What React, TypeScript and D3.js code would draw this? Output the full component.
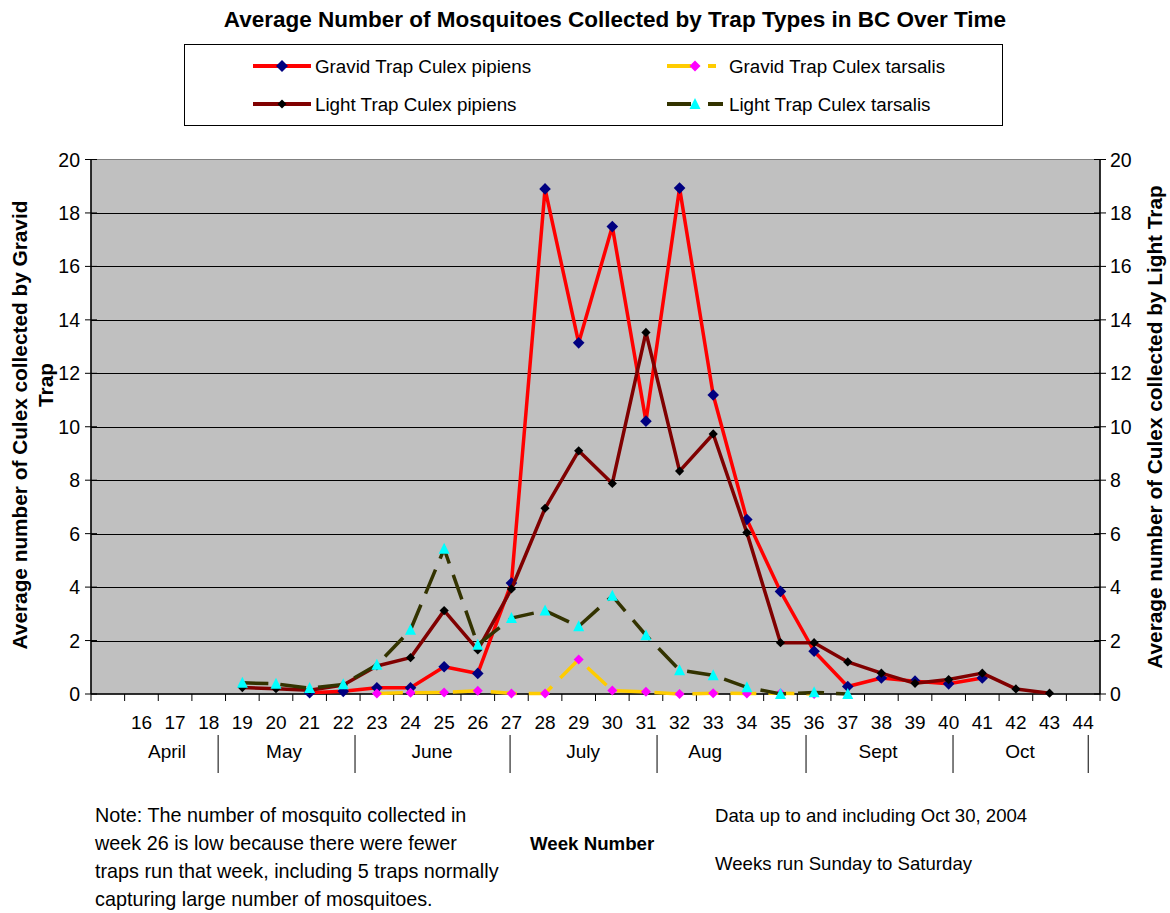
import React from 'react';
import * as d3 from 'd3';

const weeks = [15, 16, 17, 18, 19, 20, 21, 22, 23, 24, 25, 26, 27, 28, 29, 30, 31, 32, 33, 34, 35, 36, 37, 38, 39, 40, 41, 42, 43, 44];
const weekTickLabels = ['', '16', '17', '18', '19', '20', '21', '22', '23', '24', '25', '26', '27', '28', '29', '30', '31', '32', '33', '34', '35', '36', '37', '38', '39', '40', '41', '42', '43', '44'];

const gravidPipiens: (number | null)[] = [null, null, null, null, null, null,
  0.05, 0.1, 0.23, 0.23, 1.02, 0.77, 4.15, 18.9, 13.14, 17.49, 10.21, 18.93, 11.19, 6.53, 3.84, 1.6, 0.28, 0.6, 0.48, 0.38, 0.6,
  null, null, null];
const gravidTarsalis: (number | null)[] = [null, null, null, null, null, null, null, null,
  0.02, 0.05, 0.06, 0.12, 0.02, 0.02, 1.29, 0.13, 0.08, 0, 0.03, 0.02, 0.03, 0,
  null, null, null, null, null, null, null, null];
const lightPipiens: (number | null)[] = [null, null, null, null,
  0.24, 0.2, 0.14, 0.34, 1.05, 1.36, 3.12, 1.65, 3.93, 6.95, 9.1, 7.88, 13.53, 8.34, 9.73, 6.04, 1.92, 1.92, 1.2, 0.78, 0.4, 0.54, 0.78, 0.19, 0.03,
  null];
const lightTarsalis: (number | null)[] = [null, null, null, null,
  0.42, 0.38, 0.22, 0.36, 1.09, 2.4, 5.43, 1.84, 2.84, 3.12, 2.53, 3.67, 2.2, 0.89, 0.7, 0.25, 0, 0.06, 0,
  null, null, null, null, null, null, null];

const yTicks = [0, 2, 4, 6, 8, 10, 12, 14, 16, 18, 20];

const monthLabels = ['April', 'May', 'June', 'July', 'Aug', 'Sept', 'Oct'];
const monthCenters = [16.76, 20.24, 24.64, 29.13, 32.76, 37.9, 42.12];
const monthSeparators = [18.28, 22.35, 26.96, 31.33, 35.76, 40.13, 44.15];

const title = 'Average Number of Mosquitoes Collected by Trap Types in BC Over Time';
const seriesNames = ['Gravid Trap Culex pipiens', 'Gravid Trap Culex tarsalis', 'Light Trap Culex pipiens', 'Light Trap Culex tarsalis'];
const leftTitle1 = 'Average number of Culex collected by Gravid';
const leftTitle2 = 'Trap';
const rightTitle = 'Average number of Culex collected by Light Trap';
const noteLines = [
  'Note: The number of mosquito collected in',
  'week 26 is low because there were fewer',
  'traps run that week, including 5 traps normally',
  'capturing large number of mosquitoes.',
];
const xTitle = 'Week Number';
const infoLines = ['Data up to and including Oct 30, 2004', 'Weeks run Sunday to Saturday'];

const W = 1170;
const H = 913;
const L = 91;
const R = 1100;
const T = 159.5;
const B = 694;
const FONT = '"Liberation Sans", Arial, Helvetica, sans-serif';

const diamond = (x: number, y: number, h: number) => `M${x},${y - h}L${x + h},${y}L${x},${y + h}L${x - h},${y}Z`;
const triangle = (x: number, y: number, w: number, h: number) => `M${x},${y - h * 0.55}L${x + w},${y + h * 0.45}L${x - w},${y + h * 0.45}Z`;

export default function App() {
  const x = d3.scaleBand<number>().domain(weeks).range([L, R]).padding(0);
  const bw = x.bandwidth();
  const cx = (w: number) => (x(w) as number) + bw / 2;
  const wx = d3.scaleLinear().domain([weeks[0], weeks[weeks.length - 1]]).range([cx(weeks[0]), cx(weeks[weeks.length - 1])]);
  const yL = d3.scaleLinear().domain([0, 20]).range([B, T]);
  const yR = d3.scaleLinear().domain([0, 20]).range([B, T]);

  type P = { w: number; v: number | null };
  const mk = (arr: (number | null)[]): P[] => weeks.map((w, i) => ({ w, v: arr[i] }));
  const lineGen = (ys: d3.ScaleLinear<number, number>) =>
    d3.line<P>().defined(d => d.v != null).x(d => cx(d.w)).y(d => ys(d.v as number));

  const gp = mk(gravidPipiens);
  const gt = mk(gravidTarsalis);
  const lp = mk(lightPipiens);
  const lt = mk(lightTarsalis);

  const boundaries = d3.range(weeks.length + 1).map(i => L + i * bw);

  return (
    <svg width={W} height={H} style={{ position: 'absolute', left: 0, top: 0, background: '#fff' }} fontFamily={FONT}>
      <rect x={0} y={0} width={W} height={H} fill="#fff" />
      <text x={615} y={27} textAnchor="middle" fontWeight="bold" fontSize={22.5}>{title}</text>

      {/* legend */}
      <rect x={184.5} y={44.5} width={818} height={81} fill="#fff" stroke="#000" strokeWidth={1} />
      <line x1={253} x2={311} y1={66} y2={66} stroke="#ff0000" strokeWidth={4} />
      <path d={diamond(282, 66, 6)} fill="#000080" />
      <text x={315} y={72.5} fontSize={18.8}>{seriesNames[0]}</text>
      <line x1={253} x2={311} y1={104} y2={104} stroke="#800000" strokeWidth={4} />
      <path d={diamond(282, 104, 4.5)} fill="#000" />
      <text x={315} y={110.5} fontSize={18.8}>{seriesNames[2]}</text>
      <line x1={667} x2={716} y1={66} y2={66} stroke="#ffcc00" strokeWidth={4} strokeDasharray="24,17" />
      <path d={diamond(695, 66, 5.5)} fill="#ff00ff" />
      <text x={729} y={72.5} fontSize={18.8}>{seriesNames[1]}</text>
      <line x1={667} x2={723} y1={104} y2={104} stroke="#333300" strokeWidth={4} strokeDasharray="24,17" />
      <path d={triangle(695, 104, 5.5, 11)} fill="#00ffff" />
      <text x={729} y={110.5} fontSize={18.8}>{seriesNames[3]}</text>

      {/* plot area */}
      <rect x={L} y={T} width={R - L} height={B - T} fill="#c0c0c0" stroke="#808080" strokeWidth={1} />
      {yTicks.filter(t => t > 0 && t < 20).map(t => (
        <line key={'g' + t} x1={L} x2={R} y1={Math.round(yL(t)) + 0.5} y2={Math.round(yL(t)) + 0.5} stroke="#000" strokeWidth={1} />
      ))}

      {/* axes */}
      <line x1={L} x2={L} y1={T} y2={B} stroke="#000" strokeWidth={1.5} />
      <line x1={R} x2={R} y1={T} y2={B} stroke="#000" strokeWidth={1.5} />
      <line x1={L} x2={R} y1={B} y2={B} stroke="#000" strokeWidth={1.5} />
      {yTicks.map(t => (
        <g key={'yt' + t}>
          <line x1={L - 6} x2={L + 6} y1={yL(t)} y2={yL(t)} stroke="#000" strokeWidth={1} />
          <text x={80} y={yL(t) + 7} textAnchor="end" fontSize={19.5}>{t}</text>
          <line x1={R - 6} x2={R + 6} y1={yR(t)} y2={yR(t)} stroke="#000" strokeWidth={1} />
          <text x={1110} y={yR(t) + 7} textAnchor="start" fontSize={19.5}>{t}</text>
        </g>
      ))}
      {boundaries.map((b, i) => (
        <line key={'xt' + i} x1={b} x2={b} y1={B} y2={B + 7} stroke="#000" strokeWidth={1} />
      ))}
      {weeks.map((w, i) => (
        <text key={'xl' + w} x={cx(w)} y={729} textAnchor="middle" fontSize={19}>{weekTickLabels[i]}</text>
      ))}
      {monthLabels.map((m, i) => (
        <text key={'m' + m} x={wx(monthCenters[i])} y={758} textAnchor="middle" fontSize={19}>{m}</text>
      ))}
      {monthSeparators.map((s, i) => (
        <line key={'ms' + i} x1={wx(s)} x2={wx(s)} y1={735} y2={773} stroke="#000" strokeWidth={1} />
      ))}

      {/* series */}
      <path d={lineGen(yL)(gp) || ''} fill="none" stroke="#ff0000" strokeWidth={3.5} strokeLinejoin="round" />
      {gp.filter(d => d.v != null).map(d => (
        <path key={'gp' + d.w} d={diamond(cx(d.w), yL(d.v as number), 5.8)} fill="#000080" />
      ))}
      <path d={lineGen(yL)(gt) || ''} fill="none" stroke="#ffcc00" strokeWidth={3.5} strokeDasharray="26,12" />
      {gt.filter(d => d.v != null).map(d => (
        <path key={'gt' + d.w} d={diamond(cx(d.w), yL(d.v as number), 5)} fill="#ff00ff" />
      ))}
      <path d={lineGen(yR)(lp) || ''} fill="none" stroke="#800000" strokeWidth={3.5} strokeLinejoin="round" />
      {lp.filter(d => d.v != null).map(d => (
        <path key={'lp' + d.w} d={diamond(cx(d.w), yR(d.v as number), 4.6)} fill="#000" />
      ))}
      <path d={lineGen(yR)(lt) || ''} fill="none" stroke="#333300" strokeWidth={3.5} strokeDasharray="26,12" />
      {lt.filter(d => d.v != null).map(d => (
        <path key={'lt' + d.w} d={triangle(cx(d.w), yR(d.v as number), 5.5, 11)} fill="#00ffff" />
      ))}

      {/* axis titles */}
      <text transform="translate(27,425) rotate(-90)" textAnchor="middle" fontWeight="bold" fontSize={20.8}>{leftTitle1}</text>
      <text transform="translate(53,385) rotate(-90)" textAnchor="middle" fontWeight="bold" fontSize={20.8}>{leftTitle2}</text>
      <text transform="translate(1162,427) rotate(-90)" textAnchor="middle" fontWeight="bold" fontSize={20.8}>{rightTitle}</text>

      {/* notes */}
      {noteLines.map((t, i) => (
        <text key={'n' + i} x={95} y={822 + i * 28} fontSize={19.8}>{t}</text>
      ))}
      <text x={530} y={850} fontWeight="bold" fontSize={18.7}>{xTitle}</text>
      <text x={715} y={822} fontSize={18.6}>{infoLines[0]}</text>
      <text x={715} y={870} fontSize={18.6}>{infoLines[1]}</text>
    </svg>
  );
}
